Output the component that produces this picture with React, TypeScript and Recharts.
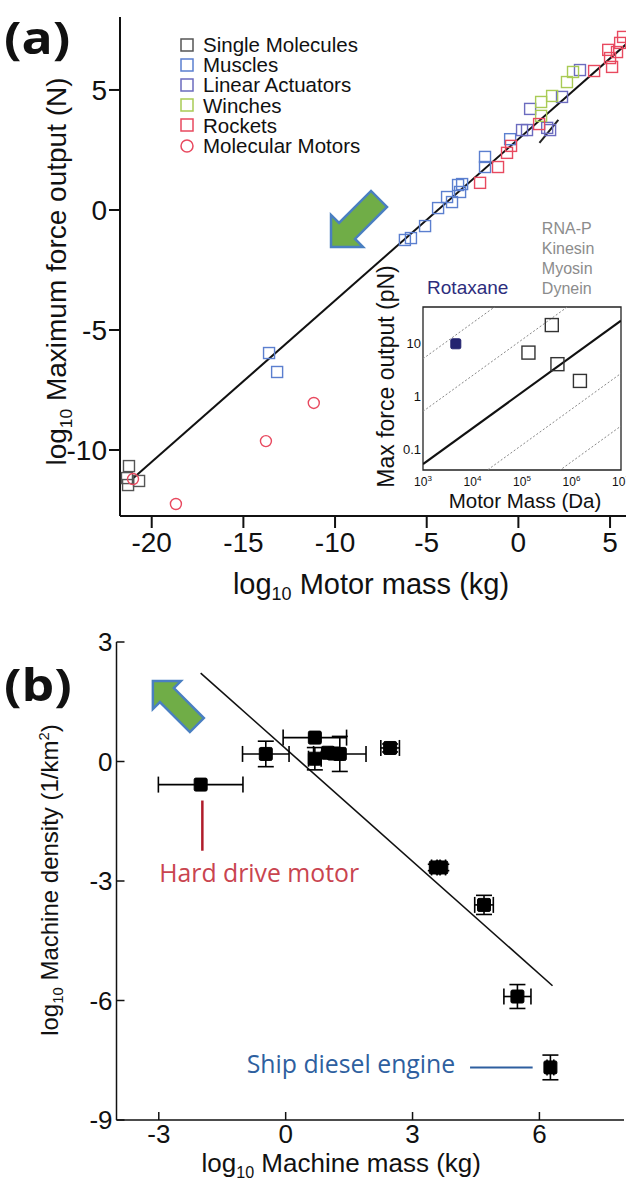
import React from 'react';
import {
  ScatterChart, Scatter, XAxis, YAxis, ReferenceLine, ReferenceDot, ReferenceArea, Legend, ErrorBar,
} from 'recharts';

const SANS = '"Liberation Sans", Arial, Helvetica, sans-serif';
const CAL = '"Open Sans", Lato, sans-serif';

// ---------------- Panel (a) data ----------------
const xTicksA = [-20, -15, -10, -5, 0, 5];
const yTicksA = [-10, -5, 0, 5];

const singleMolecules = [
  { x: -21.24, y: -10.67 }, { x: -21.35, y: -11.17 }, { x: -21.29, y: -11.46 }, { x: -20.69, y: -11.29 },
];
const muscles = [
  { x: -13.6, y: -5.96 }, { x: -13.16, y: -6.75 },
  { x: -6.19, y: -1.25 }, { x: -5.86, y: -1.17 }, { x: -5.09, y: -0.67 }, { x: -4.38, y: 0.08 },
  { x: -3.89, y: 0.54 }, { x: -3.62, y: 0.33 }, { x: -3.29, y: 1.04 }, { x: -3.07, y: 1.08 },
  { x: -3.18, y: 0.75 }, { x: -1.82, y: 2.21 }, { x: -1.82, y: 1.79 }, { x: -0.45, y: 2.95 },
];
const linearActuators = [
  { x: 0.2, y: 3.33 }, { x: 0.47, y: 3.33 }, { x: 0.64, y: 4.21 }, { x: 1.57, y: 3.42 },
  { x: 1.73, y: 3.33 }, { x: 2.38, y: 4.71 }, { x: 3.36, y: 5.83 },
];
const winches = [
  { x: 1.24, y: 3.92 }, { x: 1.24, y: 4.5 }, { x: 1.84, y: 4.75 }, { x: 2.65, y: 5.33 }, { x: 2.98, y: 5.75 },
];
const rockets = [
  { x: -2.09, y: 1.13 }, { x: -1.11, y: 1.79 }, { x: -0.62, y: 2.38 }, { x: -0.4, y: 2.67 },
  { x: 1.13, y: 3.58 }, { x: 4.13, y: 5.79 }, { x: 4.9, y: 6.67 }, { x: 5.0, y: 6.33 },
  { x: 5.11, y: 5.96 }, { x: 5.38, y: 6.58 }, { x: 5.55, y: 6.96 }, { x: 5.71, y: 7.21 },
];
const molecularMotors = [
  { x: -21.02, y: -11.21 }, { x: -18.68, y: -12.25 }, { x: -13.77, y: -9.63 }, { x: -11.16, y: -8.04 },
];
const fitA = [{ x: -21.0, y: -11.17 }, { x: 5.87, y: 6.9 }];
const markSegA = [{ x: 1.15, y: 2.8 }, { x: 2.18, y: 3.75 }];
const arrowTipA = { x: -10.22, y: -1.54 };
const motorNamesAnchor = { x: 1.28, y: -0.75 };
const motorNames = ['RNA-P', 'Kinesin', 'Myosin', 'Dynein'];
const rotaxaneAnchor = { x: -4.98, y: -3.2 };

const seriesOrder = ['Single Molecules', 'Muscles', 'Linear Actuators', 'Winches', 'Rockets', 'Molecular Motors'];
const seriesColors: Record<string, string> = {
  'Single Molecules': '#555555',
  'Muscles': '#5b7fcf',
  'Linear Actuators': '#6b6bbf',
  'Winches': '#a9cb55',
  'Rockets': '#e8495f',
  'Molecular Motors': '#e8495f',
};

// ---------------- Inset data ----------------
const insetXTicks = [1e3, 1e4, 1e5, 1e6, 1e7];
const insetYTicks = [0.1, 1, 10];
const insetRotaxane = [{ x: 4600, y: 10 }];
const insetMotors = [
  { x: 1.35e5, y: 6.8 }, { x: 4.0e5, y: 22.7 }, { x: 5.2e5, y: 4.1 }, { x: 1.48e6, y: 1.97 },
];
const insetFit = [{ x: 1e3, y: 0.052 }, { x: 1e7, y: 27.4 }];
const insetGuides = [
  [{ x: 1e3, y: 5.2 }, { x: 1e7, y: 2740 }],
  [{ x: 1e3, y: 0.52 }, { x: 1e7, y: 274 }],
  [{ x: 1e3, y: 0.0052 }, { x: 1e7, y: 2.74 }],
  [{ x: 1e3, y: 0.00052 }, { x: 1e7, y: 0.274 }],
];

// ---------------- Panel (b) data ----------------
const xTicksB = [-3, 0, 3, 6];
const yTicksB = [-9, -6, -3, 0, 3];
const machines = [
  { x: -2.01, y: -0.58, ex: 1.0, ey: 0 },
  { x: -0.47, y: 0.19, ex: 0.55, ey: 0.32 },
  { x: 0.69, y: 0.6, ex: 0.75, ey: 0 },
  { x: 0.69, y: 0.07, ex: 0.15, ey: 0.28 },
  { x: 1.0, y: 0.22, ex: 0, ey: 0 },
  { x: 1.14, y: 0.2, ex: 0, ey: 0 },
  { x: 1.28, y: 0.19, ex: 0.62, ey: 0.44 },
  { x: 2.47, y: 0.34, ex: 0.22, ey: 0.1 },
  { x: 3.55, y: -2.66, ex: 0.1, ey: 0.08 },
  { x: 3.68, y: -2.66, ex: 0.1, ey: 0.08 },
  { x: 4.69, y: -3.6, ex: 0.22, ey: 0.24 },
  { x: 5.48, y: -5.9, ex: 0.32, ey: 0.3 },
  { x: 6.26, y: -7.68, ex: 0.08, ey: 0.31 },
];
const fitB = [{ x: -2.01, y: 2.22 }, { x: 6.31, y: -5.63 }];
const arrowTipB = { x: -3.14, y: 2.02 };
const hardDriveLine = [{ x: -1.97, y: -0.98 }, { x: -1.97, y: -2.24 }];
const shipLine = [{ x: 4.36, y: -7.68 }, { x: 5.84, y: -7.68 }];
const hardDriveText = { x: -2.99, y: -3.02, label: 'Hard drive motor' };
const shipText = { x: -0.92, y: -7.81, label: 'Ship diesel engine' };

// ---------------- helpers ----------------
const vbOf = (v: any) => v || { x: 0, y: 0, width: 0, height: 0 };

function LogTitle(props: any) {
  const vb = vbOf(props.viewBox);
  const { vertical, dxx, dyy, size, rest, tail } = props;
  const x = vertical ? vb.x + dxx : vb.x + vb.width / 2 + dxx;
  const y = vertical ? vb.y + vb.height / 2 + dyy : vb.y + dyy;
  const sub = size * 0.62;
  return (
    <text
      x={x}
      y={y}
      transform={vertical ? `rotate(-90, ${x}, ${y})` : undefined}
      textAnchor="middle"
      fontFamily={SANS}
      fontSize={size}
      fill="#111"
      style={{ whiteSpace: 'pre' }}
    >
      <tspan>log</tspan>
      <tspan fontSize={sub} dy={size * 0.22}>10</tspan>
      <tspan dy={-size * 0.22}>{' ' + rest}</tspan>
      {tail ? <tspan fontSize={sub} dy={-size * 0.35}>{tail}</tspan> : null}
      {tail ? <tspan dy={size * 0.35}>)</tspan> : null}
    </text>
  );
}

function PlainTitle(props: any) {
  const vb = vbOf(props.viewBox);
  const { vertical, dxx, dyy, size, words } = props;
  const x = vertical ? vb.x + dxx : vb.x + vb.width / 2 + dxx;
  const y = vertical ? vb.y + vb.height / 2 + dyy : vb.y + dyy;
  return (
    <text
      x={x}
      y={y}
      transform={vertical ? `rotate(-90, ${x}, ${y})` : undefined}
      textAnchor="middle"
      fontFamily={SANS}
      fontSize={size}
      fill="#111"
    >
      {words}
    </text>
  );
}

const squareShape = (color: string, size: number) => (p: any) => (
  <rect x={p.cx - size / 2} y={p.cy - size / 2} width={size} height={size} fill="none" stroke={color} strokeWidth={1.4} />
);
const circleShape = (color: string) => (p: any) => (
  <circle cx={p.cx} cy={p.cy} r={5.5} fill="none" stroke={color} strokeWidth={1.4} />
);
const filledSquare = (color: string, size: number) => (p: any) => (
  <rect x={p.cx - size / 2} y={p.cy - size / 2} width={size} height={size} rx={1.5} fill={color} stroke={color} strokeWidth={1} />
);

const arrowPts = (cx: number, cy: number, pts: number[][]) =>
  pts.map(([dx, dy]) => `${cx + dx},${cy + dy}`).join(' ');

const ArrowDownLeft = (p: any) => (
  <polygon
    points={arrowPts(p.cx, p.cy, [[0, 0], [0, -32], [8, -24], [40, -56], [56, -40], [24, -8], [32, 0]])}
    fill="#70ad47" stroke="#4a7fc1" strokeWidth={2.5}
  />
);
const ArrowUpLeft = (p: any) => (
  <polygon
    points={arrowPts(p.cx, p.cy, [[0, 0], [28, 0], [21, 7], [51, 37], [37, 51], [7, 21], [0, 28]])}
    fill="#70ad47" stroke="#4a7fc1" strokeWidth={2.5}
  />
);

const MotorNamesShape = (p: any) => (
  <text x={p.cx} y={p.cy + 6} fontFamily={SANS} fontSize={16} fill="#8c8c8c">
    {motorNames.map((n, i) => (
      <tspan key={n} x={p.cx} y={p.cy + 6 + i * 20}>{n}</tspan>
    ))}
  </text>
);
const RotaxaneShape = (p: any) => (
  <text x={p.cx} y={p.cy + 7} fontFamily={SANS} fontSize={19} fill="#2d2d7d">Rotaxane</text>
);
const noteShape = (label: string, color: string) => (p: any) => (
  <text x={p.cx} y={p.cy} fontFamily={CAL} fontSize={24.8} fill={color}>{label}</text>
);

const LegendA = (props: any) => {
  const payload = [...(props.payload || [])].sort(
    (a: any, b: any) => seriesOrder.indexOf(a.value) - seriesOrder.indexOf(b.value),
  );
  return (
    <div style={{ fontFamily: SANS, fontSize: 20.5, color: '#111' }}>
      {payload.map((e: any) => {
        const c = seriesColors[e.value] || '#000';
        return (
          <div key={e.value} style={{ display: 'flex', alignItems: 'center', height: 20.2, whiteSpace: 'nowrap' }}>
            <svg width={16} height={16} style={{ marginRight: 8, flex: 'none' }}>
              {e.value === 'Molecular Motors'
                ? <circle cx={8} cy={8} r={6} fill="none" stroke={c} strokeWidth={1.5} />
                : <rect x={2} y={2} width={12} height={12} fill="none" stroke={c} strokeWidth={1.5} />}
            </svg>
            <span style={{ display: 'block', height: 19, lineHeight: '19px', overflow: 'visible' }}>{e.value}</span>
          </div>
        );
      })}
    </div>
  );
};

const PowTick = (p: any) => {
  const e = Math.round(Math.log10(p.payload.value));
  return (
    <text x={p.x} y={p.y + 8} textAnchor="middle" fontFamily={SANS} fontSize={12} fill="#111">
      <tspan>10</tspan>
      <tspan fontSize={8} dy={-5}>{e}</tspan>
    </text>
  );
};

const axisStyleA = { stroke: '#111', strokeWidth: 2 };
const axisStyleB = { stroke: '#111', strokeWidth: 1.5 };

export default function App() {
  return (
    <div style={{ position: 'absolute', left: 0, top: 0, width: 626, height: 1182, background: '#fff', overflow: 'hidden' }}>
      {/* Panel (b) */}
      <div style={{ position: 'absolute', left: 0, top: 600 }}>
        <ScatterChart width={626} height={582} margin={{ top: 42, right: 2, bottom: 0, left: 56.5 }}>
          <XAxis
            type="number" dataKey="x" domain={[-4, 8]} ticks={xTicksB} allowDataOverflow
            height={62} tickSize={-8} tickMargin={13}
            axisLine={axisStyleB} tickLine={axisStyleB}
            tick={{ fontSize: 26, fill: '#111', fontFamily: SANS }}
            label={<LogTitle dxx={-29} dyy={52} size={26} rest="Machine mass (kg)" />}
          />
          <XAxis
            xAxisId="top" orientation="top" type="number" domain={[-4, 8]} ticks={xTicksB} allowDataOverflow
            height={0} tickSize={-8} tick={false} axisLine={axisStyleB} tickLine={axisStyleB}
          />
          <YAxis
            type="number" dataKey="y" domain={[-9, 3]} ticks={yTicksB} allowDataOverflow
            width={60} tickSize={-8} tickMargin={12}
            axisLine={axisStyleB} tickLine={axisStyleB}
            tick={{ fontSize: 26, fill: '#111', fontFamily: SANS }}
            label={<LogTitle vertical dxx={1} dyy={-1} size={24} rest="Machine density (1/km" tail="2" />}
          />
          <YAxis
            yAxisId="right" orientation="right" type="number" domain={[-9, 3]} ticks={yTicksB} allowDataOverflow
            width={0} tickSize={-8} tick={false} axisLine={axisStyleB} tickLine={axisStyleB}
          />
          <ReferenceLine segment={fitB} stroke="#111" strokeWidth={1.6} ifOverflow="visible" />
          <ReferenceLine segment={hardDriveLine} stroke="#b01c2a" strokeWidth={2.5} ifOverflow="visible" />
          <ReferenceLine segment={shipLine} stroke="#2e5f9f" strokeWidth={2} ifOverflow="visible" />
          <Scatter data={machines} shape={filledSquare('#000', 13)} isAnimationActive={false}>
            <ErrorBar dataKey="ex" direction="x" width={8} stroke="#000" strokeWidth={1.6} isAnimationActive={false} />
            <ErrorBar dataKey="ey" direction="y" width={8} stroke="#000" strokeWidth={1.6} isAnimationActive={false} />
          </Scatter>
          <ReferenceDot x={arrowTipB.x} y={arrowTipB.y} shape={ArrowUpLeft} ifOverflow="visible" />
          <ReferenceDot x={hardDriveText.x} y={hardDriveText.y} shape={noteShape(hardDriveText.label, '#c9444f')} ifOverflow="visible" />
          <ReferenceDot x={shipText.x} y={shipText.y} shape={noteShape(shipText.label, '#2e5f9f')} ifOverflow="visible" />
        </ScatterChart>
      </div>

      {/* Panel (a) */}
      <div style={{ position: 'absolute', left: 0, top: 0 }}>
        <ScatterChart width={626} height={610} margin={{ top: 17, right: 0, bottom: 0, left: 60 }}>
          <XAxis
            type="number" dataKey="x" domain={[-21.73, 5.87]} ticks={xTicksA} allowDataOverflow
            height={94} tickSize={12} tickMargin={4}
            axisLine={axisStyleA} tickLine={axisStyleA}
            tick={{ fontSize: 28, fill: '#111', fontFamily: SANS }}
            label={<LogTitle dxx={-2} dyy={78} size={29} rest="Motor mass (kg)" />}
          />
          <YAxis
            type="number" dataKey="y" domain={[-12.75, 8.04]} ticks={yTicksA} allowDataOverflow
            width={60} tickSize={11} tickMargin={2}
            axisLine={axisStyleA} tickLine={axisStyleA}
            tick={{ fontSize: 28, fill: '#111', fontFamily: SANS }}
            label={<LogTitle vertical dxx={6} dyy={5} size={28} rest="Maximum force output (N)" />}
          />
          <ReferenceLine segment={fitA} stroke="#111" strokeWidth={2} ifOverflow="visible" />
          <ReferenceLine segment={markSegA} stroke="#222" strokeWidth={2} ifOverflow="visible" />
          <Scatter name="Single Molecules" data={singleMolecules} fill={seriesColors['Single Molecules']} shape={squareShape(seriesColors['Single Molecules'], 11)} isAnimationActive={false} />
          <Scatter name="Muscles" data={muscles} fill={seriesColors['Muscles']} shape={squareShape(seriesColors['Muscles'], 11)} isAnimationActive={false} />
          <Scatter name="Linear Actuators" data={linearActuators} fill={seriesColors['Linear Actuators']} shape={squareShape(seriesColors['Linear Actuators'], 11)} isAnimationActive={false} />
          <Scatter name="Winches" data={winches} fill={seriesColors['Winches']} shape={squareShape(seriesColors['Winches'], 11)} isAnimationActive={false} />
          <Scatter name="Rockets" data={rockets} fill={seriesColors['Rockets']} shape={squareShape(seriesColors['Rockets'], 11)} isAnimationActive={false} />
          <Scatter name="Molecular Motors" data={molecularMotors} fill={seriesColors['Molecular Motors']} shape={circleShape(seriesColors['Molecular Motors'])} isAnimationActive={false} />
          <ReferenceDot x={arrowTipA.x} y={arrowTipA.y} shape={ArrowDownLeft} ifOverflow="visible" />
          <ReferenceDot x={motorNamesAnchor.x} y={motorNamesAnchor.y} shape={MotorNamesShape} ifOverflow="visible" />
          <ReferenceDot x={rotaxaneAnchor.x} y={rotaxaneAnchor.y} shape={RotaxaneShape} ifOverflow="visible" />
          <Legend
            layout="vertical" align="center" verticalAlign="middle"
            content={<LegendA />}
            wrapperStyle={{ left: 179, top: 34.5, width: 240, height: 130 }}
          />
        </ScatterChart>
      </div>

      {/* Inset */}
      <div style={{ position: 'absolute', left: 360, top: 250 }}>
        <ScatterChart width={266} height={270} margin={{ top: 57, right: 5, bottom: 0, left: 33 }}>
          <XAxis
            type="number" dataKey="x" scale="log" domain={[1e3, 1e7]} ticks={insetXTicks} allowDataOverflow
            height={50} axisLine={false} tickLine={false} tick={<PowTick />} interval={0}
            label={<PlainTitle dxx={3} dyy={38} size={20.5} words="Motor Mass (Da)" />}
          />
          <YAxis
            type="number" dataKey="y" scale="log" domain={[0.04, 50]} ticks={insetYTicks} allowDataOverflow
            width={30} axisLine={false} tickLine={false} tickSize={0} tickMargin={2} interval={0}
            tick={{ fontSize: 13, fill: '#111', fontFamily: SANS }}
            tickFormatter={(v: number) => String(v)}
            label={<PlainTitle vertical dxx={1} dyy={-12} size={23} words="Max force output (pN)" />}
          />
          {insetGuides.map((seg, i) => (
            <ReferenceLine key={i} segment={seg} stroke="#888" strokeWidth={1} strokeDasharray="2 2" ifOverflow="hidden" />
          ))}
          <ReferenceLine segment={insetFit} stroke="#111" strokeWidth={2.2} ifOverflow="hidden" />
          <ReferenceArea x1={1e3} x2={1e7} y1={0.04} y2={50} fill="none" stroke="#222" strokeWidth={1.3} ifOverflow="visible" />
          <Scatter data={insetRotaxane} shape={filledSquare('#232370', 10)} isAnimationActive={false} />
          <Scatter data={insetMotors} shape={squareShape('#333', 13)} isAnimationActive={false} />
        </ScatterChart>
      </div>

      {/* Panel letters */}
      <div style={{ position: 'absolute', left: 4, top: 9, fontFamily: CAL, fontWeight: 700, fontSize: 45, lineHeight: '56px', color: '#111', transform: 'scaleX(1.15)', transformOrigin: 'left top' }}>(a)</div>
      <div style={{ position: 'absolute', left: 4, top: 656, fontFamily: CAL, fontWeight: 700, fontSize: 45, lineHeight: '56px', color: '#111', transform: 'scaleX(1.15)', transformOrigin: 'left top' }}>(b)</div>
    </div>
  );
}
